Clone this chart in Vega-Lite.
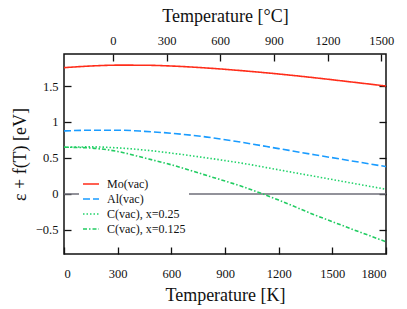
{
  "$schema": "https://vega.github.io/schema/vega-lite/v6.json",
  "width": 322,
  "height": 200,
  "autosize": {"type": "none"},
  "padding": {"left": 64, "top": 54, "right": 21, "bottom": 55},
  "config": {
    "font": "'Liberation Serif', 'Times New Roman', serif",
    "view": {"stroke": "#111", "strokeWidth": 1.5},
    "axis": {
      "grid": false,
      "domain": false,
      "tickColor": "#111",
      "tickWidth": 1.3,
      "labelFont": "'Liberation Serif', 'Times New Roman', serif",
      "labelFontSize": 12.5,
      "labelColor": "#111",
      "titleFont": "'Liberation Serif', 'Times New Roman', serif",
      "titleFontSize": 18,
      "titleFontWeight": "normal",
      "titleColor": "#111"
    },
    "legend": {
      "labelFont": "'Liberation Serif', 'Times New Roman', serif",
      "labelFontSize": 12,
      "labelColor": "#111"
    }
  },
  "datasets": {
    "curves": [
      {"T": 0, "s": "Mo(vac)", "v": 1.755},
      {"T": 150, "s": "Mo(vac)", "v": 1.778},
      {"T": 300, "s": "Mo(vac)", "v": 1.79},
      {"T": 450, "s": "Mo(vac)", "v": 1.789},
      {"T": 600, "s": "Mo(vac)", "v": 1.778},
      {"T": 800, "s": "Mo(vac)", "v": 1.75},
      {"T": 1000, "s": "Mo(vac)", "v": 1.712},
      {"T": 1200, "s": "Mo(vac)", "v": 1.667},
      {"T": 1400, "s": "Mo(vac)", "v": 1.615},
      {"T": 1600, "s": "Mo(vac)", "v": 1.558},
      {"T": 1800, "s": "Mo(vac)", "v": 1.5},
      {"T": 0, "s": "Al(vac)", "v": 0.875},
      {"T": 150, "s": "Al(vac)", "v": 0.886},
      {"T": 300, "s": "Al(vac)", "v": 0.886},
      {"T": 450, "s": "Al(vac)", "v": 0.87},
      {"T": 600, "s": "Al(vac)", "v": 0.843},
      {"T": 800, "s": "Al(vac)", "v": 0.79},
      {"T": 1000, "s": "Al(vac)", "v": 0.715},
      {"T": 1200, "s": "Al(vac)", "v": 0.63},
      {"T": 1400, "s": "Al(vac)", "v": 0.545},
      {"T": 1600, "s": "Al(vac)", "v": 0.462},
      {"T": 1800, "s": "Al(vac)", "v": 0.38},
      {"T": 0, "s": "C(vac), x=0.25", "v": 0.648},
      {"T": 150, "s": "C(vac), x=0.25", "v": 0.654},
      {"T": 300, "s": "C(vac), x=0.25", "v": 0.64},
      {"T": 450, "s": "C(vac), x=0.25", "v": 0.61},
      {"T": 600, "s": "C(vac), x=0.25", "v": 0.567},
      {"T": 800, "s": "C(vac), x=0.25", "v": 0.5},
      {"T": 1000, "s": "C(vac), x=0.25", "v": 0.425},
      {"T": 1200, "s": "C(vac), x=0.25", "v": 0.335},
      {"T": 1400, "s": "C(vac), x=0.25", "v": 0.245},
      {"T": 1600, "s": "C(vac), x=0.25", "v": 0.155},
      {"T": 1800, "s": "C(vac), x=0.25", "v": 0.065},
      {"T": 0, "s": "C(vac), x=0.125", "v": 0.65},
      {"T": 150, "s": "C(vac), x=0.125", "v": 0.638},
      {"T": 300, "s": "C(vac), x=0.125", "v": 0.59},
      {"T": 450, "s": "C(vac), x=0.125", "v": 0.5},
      {"T": 600, "s": "C(vac), x=0.125", "v": 0.405},
      {"T": 800, "s": "C(vac), x=0.125", "v": 0.255},
      {"T": 1000, "s": "C(vac), x=0.125", "v": 0.1},
      {"T": 1200, "s": "C(vac), x=0.125", "v": -0.085},
      {"T": 1400, "s": "C(vac), x=0.125", "v": -0.29},
      {"T": 1600, "s": "C(vac), x=0.125", "v": -0.48},
      {"T": 1800, "s": "C(vac), x=0.125", "v": -0.665}
    ],
    "celsius": [
      {"C": 0, "v": 0}
    ],
    "zero": [
      {"v": 0}
    ]
  },
  "layer": [
    {
      "data": {"name": "zero"},
      "mark": {"type": "rule", "color": "#6e6e78", "strokeWidth": 1.5},
      "encoding": {
        "y": {"field": "v", "type": "quantitative", "axis": null}
      }
    },
    {
      "data": {"name": "curves"},
      "mark": {"type": "line", "strokeWidth": 1.6, "interpolate": "monotone"},
      "encoding": {
        "x": {
          "field": "T", "type": "quantitative",
          "scale": {"domain": [0, 1800], "nice": false, "zero": false},
          "axis": {
            "orient": "bottom", "title": "Temperature [K]",
            "values": [0, 300, 600, 900, 1200, 1500, 1800],
            "format": "d", "tickSize": -7, "labelPadding": 20,
            "titlePadding": 7
          }
        },
        "y": {
          "field": "v", "type": "quantitative",
          "scale": {"domain": [-0.835, 1.945], "nice": false, "zero": false},
          "axis": {
            "orient": "left", "title": "ε + f(T) [eV]",
            "values": [-0.5, 0, 0.5, 1, 1.5],
            "format": "~g", "tickSize": -7, "labelPadding": 13,
            "titlePadding": 6
          }
        },
        "color": {
          "field": "s", "type": "nominal",
          "scale": {
            "domain": ["Mo(vac)", "Al(vac)", "C(vac), x=0.25", "C(vac), x=0.125"],
            "range": ["#ff2d1a", "#1a9cff", "#22d36a", "#22cc62"]
          },
          "legend": {
            "title": null, "orient": "none", "legendX": 15, "legendY": 118,
            "fillColor": "white", "padding": 3, "symbolSize": 256,
            "symbolType": "stroke", "symbolStrokeWidth": 1.6,
            "labelOffset": 7, "rowPadding": 0
          }
        },
        "strokeDash": {
          "field": "s", "type": "nominal",
          "scale": {
            "domain": ["Mo(vac)", "Al(vac)", "C(vac), x=0.25", "C(vac), x=0.125"],
            "range": [[1, 0], [7, 3], [1.5, 2], [4, 2, 1.5, 2]]
          },
          "legend": {
            "title": null, "orient": "none", "legendX": 15, "legendY": 118,
            "fillColor": "white", "padding": 3, "symbolSize": 256,
            "symbolType": "stroke", "symbolStrokeWidth": 1.6,
            "labelOffset": 7, "rowPadding": 0
          }
        }
      }
    },
    {
      "data": {"name": "celsius"},
      "mark": {"type": "point", "opacity": 0},
      "encoding": {
        "x": {
          "field": "C", "type": "quantitative",
          "scale": {"domain": [-273.15, 1526.85], "nice": false, "zero": false},
          "axis": {
            "orient": "top", "title": "Temperature [°C]",
            "values": [0, 300, 600, 900, 1200, 1500],
            "format": "d", "tickSize": -7, "labelPadding": 14,
            "titlePadding": 9
          }
        },
        "y": {
          "field": "v", "type": "quantitative",
          "axis": {
            "orient": "right", "title": null, "labels": false,
            "values": [-0.5, 0, 0.5, 1, 1.5], "tickSize": -7
          }
        }
      }
    }
  ],
  "resolve": {
    "scale": {"x": "independent"},
    "axis": {"x": "independent", "y": "independent"}
  }
}
